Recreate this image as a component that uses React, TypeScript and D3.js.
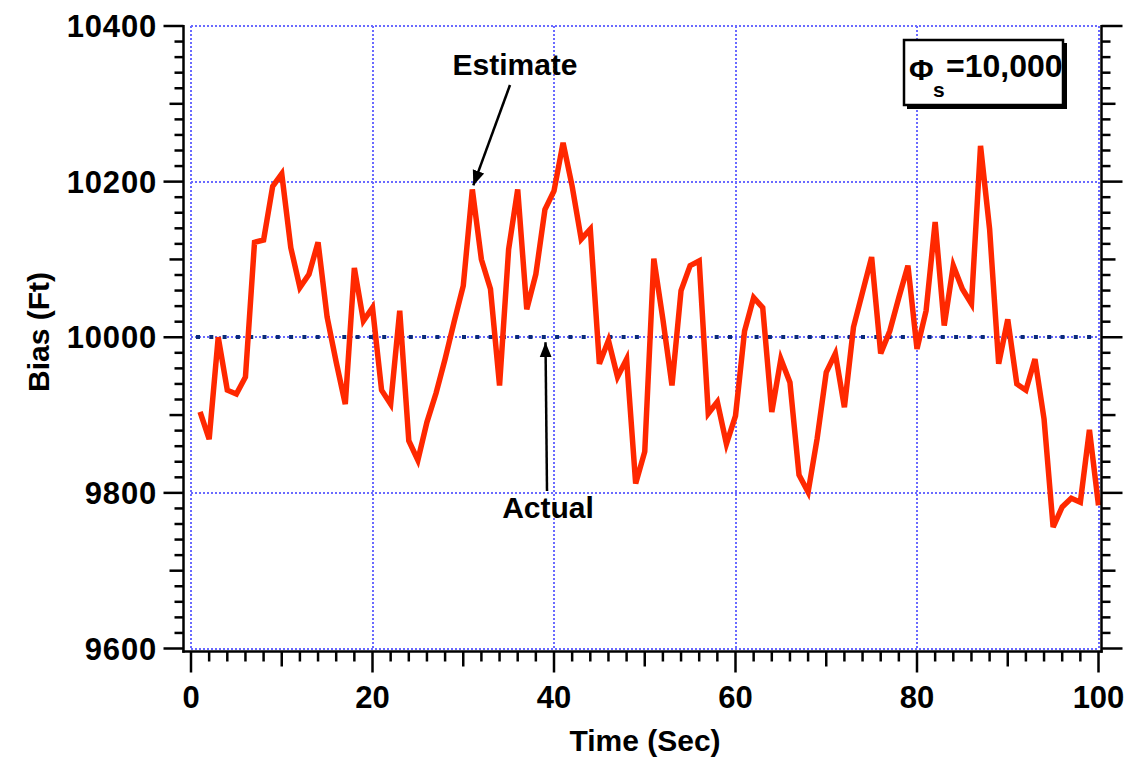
import React from "react";
import * as d3 from "d3";

// Sample times (s) and the estimated bias at each sample (Ft)
const sampleTimes = [
  1, 2, 3, 4, 5, 6, 7, 8, 9, 10, 11, 12, 13, 14, 15, 16, 17, 18, 19, 20,
  21, 22, 23, 24, 25, 26, 27, 28, 29, 30, 31, 32, 33, 34, 35, 36, 37, 38, 39, 40,
  41, 42, 43, 44, 45, 46, 47, 48, 49, 50, 51, 52, 53, 54, 55, 56, 57, 58, 59, 60,
  61, 62, 63, 64, 65, 66, 67, 68, 69, 70, 71, 72, 73, 74, 75, 76, 77, 78, 79, 80,
  81, 82, 83, 84, 85, 86, 87, 88, 89, 90, 91, 92, 93, 94, 95, 96, 97, 98, 99, 100,
];
const estimateBias = [
  9904, 9869, 10000, 9932, 9927, 9949, 10122, 10125, 10194, 10210,
  10115, 10064, 10081, 10122, 10026, 9968, 9914, 10089, 10021, 10038,
  9932, 9914, 10034, 9867, 9842, 9891, 9928, 9972, 10020, 10066,
  10190, 10100, 10062, 9938, 10113, 10190, 10036, 10081, 10164, 10188,
  10250, 10194, 10126, 10139, 9966, 9996, 9949, 9972, 9812, 9853,
  10101, 10023, 9938, 10060, 10092, 10098, 9902, 9917, 9863, 9899,
  10008, 10051, 10038, 9904, 9972, 9942, 9823, 9801, 9870, 9955,
  9979, 9910, 10013, 10058, 10103, 9979, 10008, 10051, 10092, 9985,
  10034, 10148, 10015, 10092, 10062, 10043, 10246, 10139, 9966, 10023,
  9940, 9932, 9972, 9895, 9756, 9782, 9793, 9788, 9881, 9784,
];
const actualBias = 10000;

const xTickLabels = [0, 20, 40, 60, 80, 100];
const yTickLabels = [9600, 9800, 10000, 10200, 10400];

const xDomain: [number, number] = [0, 100];
const yDomain: [number, number] = [9600, 10400];

const W = 1127;
const H = 760;
const FONT = "'Liberation Sans', Arial, Helvetica, sans-serif";
const RED = "#ff2800";
const NAVY = "#0a2b78";
const GRID = "#6a6aff";

export default function App() {
  const x = d3.scaleLinear().domain(xDomain).range([191, 1098.5]);
  const y = d3.scaleLinear().domain(yDomain).range([648.5, 26]);

  const leftSpine = 183.5;
  const rightSpine = 1101.5;
  const bottomSpine = 651.5;

  const line = d3
    .line<number>()
    .x((_, i) => x(sampleTimes[i]))
    .y((d) => y(d));

  const yMinor = d3.range(yDomain[0], yDomain[1] + 1, 20);
  const xMinor = d3.range(xDomain[0], xDomain[1] + 1, 2);

  const yTickLen = (v: number) => (v % 200 === 0 ? 20 : v % 100 === 0 ? 14 : 9);
  const xTickLen = (v: number) => (v % 20 === 0 ? 21 : v % 10 === 0 ? 15 : 10);

  // snap 2px-wide grid strokes to whole pixels so the dots stay crisp
  const px = (v: number) => Math.round(v);

  return (
    <svg
      width={W}
      height={H}
      viewBox={`0 0 ${W} ${H}`}
      style={{ position: "absolute", left: 0, top: 0, background: "#fff" }}
      fontFamily={FONT}
    >
      <rect x={0} y={0} width={W} height={H} fill="#fff" />

      {/* dotted grid */}
      <g stroke={GRID} strokeWidth={2} strokeDasharray="2,2" fill="none">
        {xTickLabels.map((t) => (
          <line key={`gx${t}`} x1={px(x(t))} x2={px(x(t))} y1={px(y(yDomain[1]))} y2={px(y(yDomain[0]))} />
        ))}
        {yTickLabels.map((v) => (
          <line key={`gy${v}`} x1={px(x(xDomain[0]))} x2={px(x(xDomain[1]))} y1={px(y(v))} y2={px(y(v))} />
        ))}
      </g>

      {/* actual bias reference */}
      <line
        x1={x(xDomain[0]) + 5}
        x2={x(xDomain[1])}
        y1={px(y(actualBias))}
        y2={px(y(actualBias))}
        stroke={NAVY}
        strokeWidth={4}
        strokeDasharray="4,9.3"
      />

      {/* estimate */}
      <path
        d={line(estimateBias) ?? ""}
        fill="none"
        stroke={RED}
        strokeWidth={5.5}
        strokeLinejoin="miter"
        strokeMiterlimit={4}
      />

      {/* axes */}
      <g stroke="#000" strokeWidth={2.5} fill="none">
        <line x1={leftSpine} x2={leftSpine} y1={y(yDomain[1]) - 1} y2={bottomSpine + 1.2} />
        <line x1={rightSpine} x2={rightSpine} y1={y(yDomain[1]) - 1} y2={bottomSpine + 1.2} />
        <line x1={leftSpine - 1.2} x2={rightSpine + 1.2} y1={bottomSpine} y2={bottomSpine} />
        {yMinor.map((v) => (
          <g key={`ty${v}`}>
            <line x1={leftSpine - yTickLen(v)} x2={leftSpine} y1={y(v)} y2={y(v)} />
            <line x1={rightSpine} x2={rightSpine + yTickLen(v) + (v % 200 === 0 ? 1 : 0)} y1={y(v)} y2={y(v)} />
          </g>
        ))}
        {xMinor.map((t) => (
          <line key={`tx${t}`} x1={x(t)} x2={x(t)} y1={bottomSpine} y2={bottomSpine + xTickLen(t)} />
        ))}
      </g>

      {/* tick labels */}
      <g fontWeight="bold" fontSize={31} fill="#000">
        {yTickLabels.map((v) => (
          <text key={`ly${v}`} x={157} y={y(v) + 11} textAnchor="end" letterSpacing={0.8}>
            {v}
          </text>
        ))}
        {xTickLabels.map((t) => (
          <text key={`lx${t}`} x={x(t)} y={708} textAnchor="middle">
            {t}
          </text>
        ))}
      </g>

      {/* axis titles */}
      <text x={645} y={751} textAnchor="middle" fontWeight="bold" fontSize={30}>
        Time (Sec)
      </text>
      <text
        transform={`translate(49,332) rotate(-90)`}
        textAnchor="middle"
        fontWeight="bold"
        fontSize={30}
      >
        Bias (Ft)
      </text>

      {/* annotations */}
      <defs>
        <marker
          id="arrowHead"
          viewBox="0 0 10 10"
          refX={10}
          refY={5}
          markerWidth={6}
          markerHeight={6}
          markerUnits="strokeWidth"
          orient="auto"
        >
          <path d="M0,1 L10,5 L0,9 z" fill="#000" />
        </marker>
      </defs>
      <text x={515} y={75} textAnchor="middle" fontWeight="bold" fontSize={30}>
        Estimate
      </text>
      <line
        x1={510}
        y1={85}
        x2={x(31) + 1}
        y2={y(estimateBias[30]) - 4}
        stroke="#000"
        strokeWidth={2.5}
        markerEnd="url(#arrowHead)"
      />
      <text x={548} y={518} textAnchor="middle" fontWeight="bold" fontSize={30}>
        Actual
      </text>
      <line
        x1={547}
        y1={491}
        x2={545.5}
        y2={y(actualBias) + 5}
        stroke="#000"
        strokeWidth={2.5}
        markerEnd="url(#arrowHead)"
      />

      {/* parameter box */}
      <rect x={907} y={43} width={160} height={66} fill="#000" />
      <rect x={904} y={40} width={159} height={65} fill="#fff" stroke="#000" strokeWidth={2.5} />
      <text x={909} y={80} fontWeight="bold" fontSize={30}>
        Φ
      </text>
      <text x={933} y={97} fontWeight="bold" fontSize={21}>
        s
      </text>
      <text x={946} y={77} fontWeight="bold" fontSize={32}>
        =10,000
      </text>
    </svg>
  );
}
